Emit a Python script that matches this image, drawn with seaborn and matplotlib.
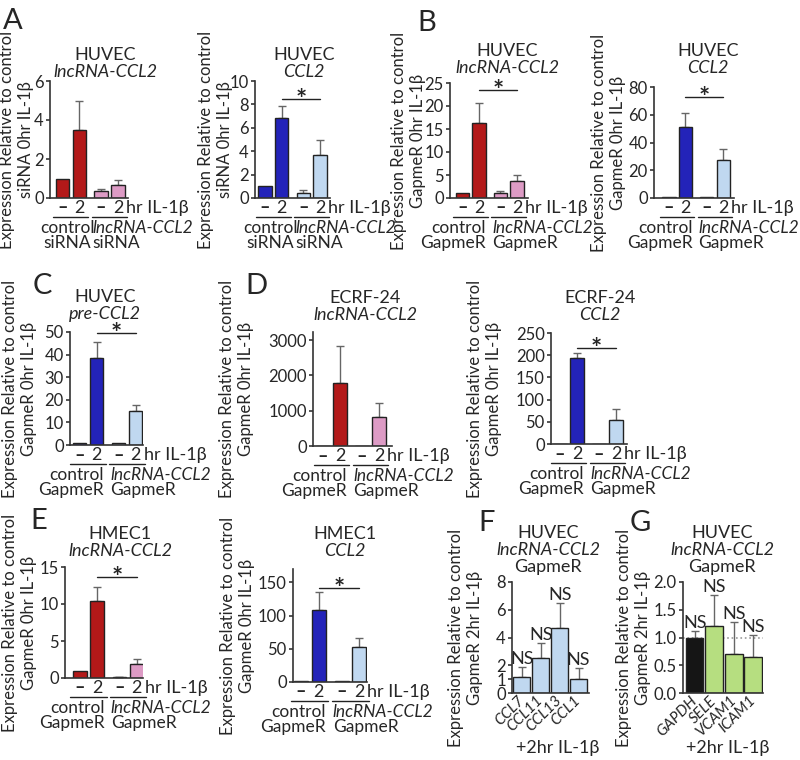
import numpy as np
import pandas as pd
import matplotlib
matplotlib.use('Agg')
import matplotlib.pyplot as plt
import seaborn as sns
from matplotlib.transforms import offset_copy, blended_transform_factory

W, H = 800, 760

RED, PINK = '#cc0000', '#e890c8'
BLUE, LBLUE = '#0a0ad2', '#b8d8f8'
GREEN, BLACK = '#b8ee70', '#151515'

# four bars per grouped panel: control -, control 2hr, lncRNA -, lncRNA 2hr
bar_pos = [0, 1, 2.3, 3.3]
cond_labels = ['–', '2', '–', '2']

a1_vals = [1.0, 3.5, 0.35, 0.65]
a1_errs = [0.0, 1.45, 0.1, 0.25]
a2_vals = [1.0, 6.8, 0.45, 3.7]
a2_errs = [0.0, 1.1, 0.2, 1.3]
b1_vals = [1.0, 16.3, 1.0, 3.7]
b1_errs = [0.0, 4.3, 0.5, 1.4]
b2_vals = [1.0, 51.5, 1.0, 27.5]
b2_errs = [0.0, 10.0, 0.0, 7.5]
c_vals = [1.0, 38.5, 1.0, 15.0]
c_errs = [0.0, 7.0, 0.0, 2.7]
d1_vals = [1.0, 1780, 1.0, 810]
d1_errs = [0.0, 1040, 0.0, 410]
d2_vals = [1.0, 193, 1.0, 55]
d2_errs = [0.0, 12, 0.0, 23]
e1_vals = [1.0, 10.4, 0.15, 1.9]
e1_errs = [0.0, 1.9, 0.05, 0.7]
e2_vals = [1.0, 109, 1.5, 53]
e2_errs = [0.0, 27, 0.0, 13]

f_genes = ['CCL7', 'CCL11', 'CCL13', 'CCL1']
f_vals = [1.15, 2.5, 4.7, 1.0]
f_errs = [0.75, 1.1, 1.8, 0.8]
g_genes = ['GAPDH', 'SELE', 'VCAM1', 'ICAM1']
g_vals = [1.0, 1.2, 0.7, 0.65]
g_errs = [0.12, 0.57, 0.58, 0.4]

sns.set_style('ticks')
plt.rcParams['font.family'] = ['Lato', 'DejaVu Sans']
plt.rcParams['font.size'] = 13
plt.rcParams['ytick.labelsize'] = 12
plt.rcParams['axes.labelsize'] = 12
plt.rcParams['axes.linewidth'] = 1.2
plt.rcParams['axes.edgecolor'] = '#333333'
plt.rcParams['ytick.major.size'] = 3
plt.rcParams['ytick.major.width'] = 1.1
plt.rcParams['ytick.major.pad'] = 1.5

fig = plt.figure(figsize=(W / 100, H / 100), dpi=100)


def px_ax(left, top, bottom, width):
    return fig.add_axes([left / W, 1 - bottom / H, width / W, (bottom - top) / H])


def ftext(x, y, s, **kw):
    kw.setdefault('ha', 'center')
    kw.setdefault('va', 'center')
    fig.text(x / W, 1 - y / H, s, **kw)


def below(ax, dy, dx=0):
    return offset_copy(ax.get_xaxis_transform(), fig=fig, x=dx, y=-dy, units='dots')


def place_ylabel(ax, text, x_px):
    ax.set_ylabel(text, linespacing=1.25)
    ax.yaxis.set_label_coords((x_px - 8) / W, 0.5,
                              transform=blended_transform_factory(fig.transFigure, ax.transAxes))


def upper_err(ax, x, vals, errs):
    x, v, e = np.asarray(x, float), np.asarray(vals, float), np.asarray(errs, float)
    m = e > 0
    ax.errorbar(x[m], v[m], yerr=[np.zeros(m.sum()), e[m]], fmt='none', ecolor='#666666',
                elinewidth=1, capsize=3, capthick=1, zorder=0.9)


def grouped(box, xlim, lab_x, vals, errs, colors, ylim, yticks, reagent, star=None):
    ax = px_ax(*box)
    df = pd.DataFrame({'pos': bar_pos, 'val': vals, 'bar': ['c0', 'c2', 'k0', 'k2']})
    sns.barplot(data=df, x='pos', y='val', hue='bar', palette=dict(zip(df['bar'], colors)),
                native_scale=True, width=0.8, dodge=False, errorbar=None,
                edgecolor='#222222', linewidth=1, legend=False, ax=ax)
    upper_err(ax, bar_pos, vals, errs)
    ax.set_xlim(*xlim)
    ax.set_ylim(*ylim)
    ax.set_yticks(yticks)
    ax.set_xticks([])
    ax.set_xlabel('')
    place_ylabel(ax, 'Expression Relative to control\n' + reagent + ' 0hr IL-1β', lab_x)
    sns.despine(ax=ax)

    for p, c in zip(bar_pos, cond_labels):
        ax.text(p, 0, c, transform=below(ax, 10), ha='center', va='center',
                fontweight='bold' if c == '–' else 'normal')
    ax.text(bar_pos[3], 0, 'hr IL-1β', transform=below(ax, 10, 8), ha='left', va='center')
    for a, b in [(0, 1), (2, 3)]:
        ax.plot([bar_pos[a] - 0.55, bar_pos[b] + 0.55], [0, 0], transform=below(ax, 19),
                color='#222222', lw=1, clip_on=False)
    if reagent == 'siRNA':
        x1, ha1 = 0.3, 'center'
    else:
        x1, ha1 = bar_pos[1] + 0.42, 'right'
    ax.text(x1, 0, 'control', transform=below(ax, 30), ha=ha1, va='center', fontsize=12.5)
    ax.text(x1, 0, reagent, transform=below(ax, 45), ha=ha1, va='center', fontsize=12.5)
    left2 = bar_pos[2] - 0.5
    ax.text(left2, 0, 'lncRNA-CCL2', transform=below(ax, 30), ha='left', va='center',
            style='italic', fontsize=12.5)
    ax.text(left2, 0, reagent, transform=below(ax, 45), ha='left', va='center', fontsize=12.5)

    if star is not None:
        ax.plot([bar_pos[1], bar_pos[3]], [star, star], color='#222222', lw=1, clip_on=False)
        ax.annotate('*', xy=((bar_pos[1] + bar_pos[3]) / 2, star), xytext=(0, -9),
                    textcoords='offset pixels', ha='center', va='baseline', fontsize=19,
                    fontweight='bold', annotation_clip=False)
    return ax


red4 = [RED, RED, PINK, PINK]
blue4 = [BLUE, BLUE, LBLUE, LBLUE]

grouped((50, 81, 198, 78), (-0.74, 3.9), 42, a1_vals, a1_errs, red4, (0, 6), [0, 2, 4, 6],
        'siRNA')
grouped((255, 81, 198, 75), (-0.6, 3.9), 241, a2_vals, a2_errs, blue4, (0, 10),
        [0, 2, 4, 6, 8, 10], 'siRNA', star=8.5)
grouped((450, 83, 198, 78), (-0.76, 3.97), 434, b1_vals, b1_errs, red4, (0, 25),
        [0, 5, 10, 15, 20, 25], 'GapmeR', star=23.5)
grouped((654, 87, 198, 80), (-0.91, 3.96), 634, b2_vals, b2_errs, blue4, (0, 80),
        [0, 20, 40, 60, 80], 'GapmeR', star=73)
grouped((70, 332, 445, 73), (-0.56, 3.73), 45, c_vals, c_errs, blue4, (0, 50),
        [0, 10, 20, 30, 40, 50], 'GapmeR', star=49.6)
grouped((313, 332, 446, 79), (-0.59, 4.06), 262, d1_vals, d1_errs, red4, (0, 3230),
        [0, 1000, 2000, 3000], 'GapmeR')
grouped((551, 333, 444, 76), (-0.53, 3.94), 510, d2_vals, d2_errs, blue4, (0, 250),
        [0, 50, 100, 150, 200, 250], 'GapmeR', star=216)
grouped((65, 567, 678, 78), (-0.85, 3.66), 45, e1_vals, e1_errs, red4, (0, 15),
        [0, 5, 10, 15], 'GapmeR', star=13.6)
grouped((293, 569, 682, 74), (-0.45, 3.73), 263, e2_vals, e2_errs, blue4, (0, 170),
        [0, 50, 100, 150], 'GapmeR', star=142)


def gene_panel(box, xlim, lab_x, xlab_frac, genes, vals, errs, colors, ylim, yticks, fmt):
    ax = px_ax(*box)
    df = pd.DataFrame({'gene': genes, 'val': vals})
    sns.barplot(data=df, x='gene', y='val', hue='gene', palette=dict(zip(genes, colors)),
                width=0.9, errorbar=None, edgecolor='#222222', linewidth=1, legend=False,
                ax=ax)
    upper_err(ax, range(len(genes)), vals, errs)
    for i, (v, e) in enumerate(zip(vals, errs)):
        ax.text(i, v + e, 'NS', ha='center', va='bottom')
    ax.set_xlim(*xlim)
    ax.set_ylim(*ylim)
    ax.set_yticks(yticks)
    ax.set_yticklabels([fmt.format(t) for t in yticks])
    ax.set_xticks(range(len(genes)))
    ax.set_xticklabels(genes, rotation=45, ha='right', va='center', rotation_mode='anchor',
                       style='italic', fontsize=11)
    ax.tick_params(axis='x', length=0, pad=4)
    ax.set_xlabel('')
    place_ylabel(ax, 'Expression Relative to control\nGapmeR 2hr IL-1β', lab_x)
    ax.text(xlab_frac, 0, '+2hr IL-1β',
            transform=offset_copy(ax.transAxes, fig=fig, y=-55, units='dots'),
            ha='center', va='center')
    sns.despine(ax=ax)
    return ax


gene_panel((512, 582, 693, 77), (-0.52, 3.55), 491, 0.6, f_genes, f_vals, f_errs,
           [LBLUE] * 4, (0, 8), [0, 1, 2, 4, 6, 8], '{:g}')
axg = gene_panel((683, 582, 693, 80), (-0.6, 3.5), 659, 0.56, g_genes, g_vals, g_errs,
                 [BLACK] + [GREEN] * 3, (0, 2), [0, 0.5, 1.0, 1.5, 2.0], '{:.1f}')
axg.axhline(1.0, color='#999999', ls=':', lw=1.2, zorder=0.5)

# panel titles: centre x, first line y
titles = [
    (105, [('HUVEC', 'normal'), ('lncRNA-CCL2', 'italic')], 55),
    (304, [('HUVEC', 'normal'), ('CCL2', 'italic')], 55),
    (507, [('HUVEC', 'normal'), ('lncRNA-CCL2', 'italic')], 51),
    (708, [('HUVEC', 'normal'), ('CCL2', 'italic')], 51),
    (105, [('HUVEC', 'normal'), ('pre-CCL2', 'italic')], 297),
    (365, [('ECRF-24', 'normal'), ('lncRNA-CCL2', 'italic')], 298),
    (600, [('ECRF-24', 'normal'), ('CCL2', 'italic')], 298),
    (120, [('HMEC1', 'normal'), ('lncRNA-CCL2', 'italic')], 534),
    (345, [('HMEC1', 'normal'), ('CCL2', 'italic')], 534),
    (548, [('HUVEC', 'normal'), ('lncRNA-CCL2', 'italic'), ('GapmeR', 'normal')], 533),
    (722, [('HUVEC', 'normal'), ('lncRNA-CCL2', 'italic'), ('GapmeR', 'normal')], 533),
]
for x, lines, y0 in titles:
    for k, (s, st) in enumerate(lines):
        ftext(x, y0 + 17 * k, s, style=st)

letters = [('A', 3, 8), ('B', 417, 10), ('C', 33, 273), ('D', 245, 273),
           ('E', 30, 508), ('F', 478, 510), ('G', 630, 510)]
for s, x, y in letters:
    ftext(x, y, s, ha='left', va='top', fontsize=21)

fig.savefig('out.png', dpi=100)
